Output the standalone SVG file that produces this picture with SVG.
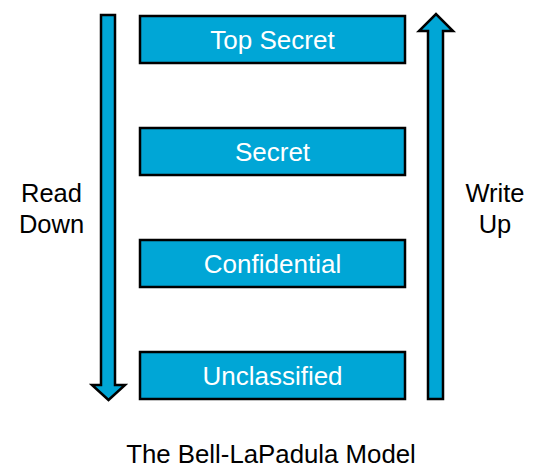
<svg xmlns="http://www.w3.org/2000/svg" width="535" height="476" viewBox="0 0 535 476">
<style>
.box{fill:#00A6D6;stroke:#000;stroke-width:2.5}
.arr{fill:#00A6D6;stroke:#000;stroke-width:2.5;stroke-linejoin:miter}
.lbl{font-family:"Liberation Sans",Arial,sans-serif;font-size:26px;fill:#fff;text-anchor:middle}
.side{font-family:"Liberation Sans",Arial,sans-serif;font-size:25.5px;fill:#000;text-anchor:middle}
</style>
<rect width="535" height="476" fill="#fff"/>
<g id="connectors">
<path id="read-down" class="arr" d="M101,15 H115 V385 H125 L108.5,400 L92,385 H101 Z"/>
<path id="write-up" class="arr" d="M428,399 H443 V31 H453 L436,14 L419,31 H428 Z"/>
</g>
<g id="top-secret"><rect class="box" x="140" y="16" width="265" height="47"/><text class="lbl" x="272.5" y="48.5">Top Secret</text></g>
<g id="secret"><rect class="box" x="140" y="128" width="265" height="47"/><text class="lbl" x="272.5" y="160.5">Secret</text></g>
<g id="confidential"><rect class="box" x="140" y="240" width="265" height="47"/><text class="lbl" x="272.5" y="272.5">Confidential</text></g>
<g id="unclassified"><rect class="box" x="140" y="352" width="265" height="47"/><text class="lbl" x="272.5" y="384.5">Unclassified</text></g>
<g id="read-down-label"><text class="side" x="51.5" y="202">Read</text><text class="side" x="51.5" y="233">Down</text></g>
<g id="write-up-label"><text class="side" x="495" y="202">Write</text><text class="side" x="495" y="233">Up</text></g>
<text id="caption" class="side" x="271" y="463" style="font-size:25.8px">The Bell-LaPadula Model</text>
</svg>
